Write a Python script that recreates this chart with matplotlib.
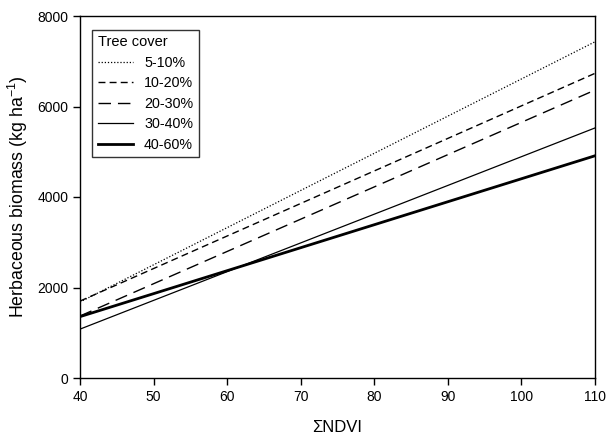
import matplotlib
matplotlib.use("Agg")
import matplotlib.pyplot as plt
import numpy as np

plt.rcParams['font.family'] = ['Liberation Sans', 'DejaVu Sans']
plt.rcParams['mathtext.fontset'] = 'custom'
plt.rcParams['mathtext.rm'] = 'Liberation Sans'
plt.rcParams['mathtext.it'] = 'Liberation Sans:italic'

x_ends = [40, 110]
labels = ['5-10%', '10-20%', '20-30%', '30-40%', '40-60%']
start_vals = [1680, 1700, 1370, 1080, 1356]
end_vals = [7430, 6733, 6363, 5526, 4911]
styles = [(0, (1, 1.5)), (0, (5, 3)), (0, (9, 5)), '-', '-']
widths = [0.9, 1.0, 1.0, 0.9, 2.0]

fig = plt.figure(figsize=(6.08, 4.37), dpi=100)
ax = fig.add_axes([80 / 608, 1 - 378 / 437, 515 / 608, 362 / 437])

for lab, s, e, ls, lw in zip(labels, start_vals, end_vals, styles, widths):
    ax.plot(x_ends, [s, e], color='black', linestyle=ls, linewidth=lw, label=lab)

ax.set_xlim(40, 110)
ax.set_ylim(0, 8000)
ax.set_xticks(np.arange(40, 111, 10))
ax.set_yticks(np.arange(0, 8001, 2000))
ax.tick_params(direction='out', length=5, labelsize=10, width=1)
for sp in ax.spines.values():
    sp.set_linewidth(1)
ax.set_xlabel('ΣNDVI', fontsize=12, labelpad=12)
ax.set_ylabel(r'Herbaceous biomass (kg ha$^{-1}$)', fontsize=12.8, labelpad=5)

leg = ax.legend(title='Tree cover', loc='upper left', bbox_to_anchor=(0.009, 0.982),
                fontsize=10.3, title_fontsize=10.5, frameon=True, fancybox=False,
                edgecolor='black', handlelength=2.5, labelspacing=0.45,
                borderpad=0.4, handletextpad=0.75)
leg._legend_box.align = 'left'
leg.get_frame().set_linewidth(1)

fig.savefig('out.png', dpi=100)
